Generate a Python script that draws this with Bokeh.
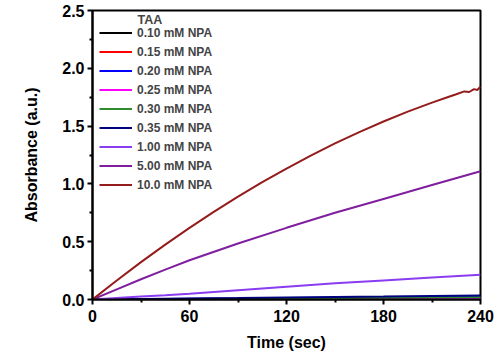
from bokeh.plotting import figure
from bokeh.models import Range1d, FixedTicker, Legend, LegendItem, Label, CustomJSTickFormatter
from bokeh.embed import file_html
from bokeh.resources import INLINE

# ---- data ----
t_red = [0, 15, 30, 45, 60, 75, 90, 105, 120, 135, 150, 165, 180, 195, 210,
         220, 225, 230, 233, 236, 238, 240]
a_10 = [0.0, 0.165, 0.323, 0.475, 0.62, 0.758, 0.89, 1.015, 1.133, 1.245, 1.35, 1.448, 1.54,
        1.625, 1.703, 1.752, 1.775, 1.80, 1.795, 1.82, 1.813, 1.84]
t = [0, 15, 30, 45, 60, 90, 120, 150, 180, 210, 240]
a_5 = [0.0, 0.088, 0.175, 0.258, 0.34, 0.485, 0.62, 0.75, 0.87, 0.99, 1.11]
a_1 = [0.0, 0.013, 0.025, 0.037, 0.05, 0.08, 0.11, 0.14, 0.165, 0.19, 0.215]
a_035 = [0.0, 0.003, 0.005, 0.007, 0.009, 0.013, 0.018, 0.022, 0.026, 0.031, 0.035]
a_030 = [0.0, 0.002, 0.003, 0.004, 0.005, 0.008, 0.010, 0.013, 0.015, 0.018, 0.020]
a_025 = [0.0, 0.001, 0.002, 0.002, 0.003, 0.005, 0.006, 0.008, 0.009, 0.011, 0.012]
a_020 = [0.0, 0.002, 0.003, 0.005, 0.006, 0.009, 0.012, 0.016, 0.019, 0.022, 0.025]
a_015 = [0.0, 0.001, 0.001, 0.002, 0.002, 0.003, 0.004, 0.005, 0.006, 0.007, 0.008]
a_010 = [0.0, 0.0, 0.001, 0.001, 0.001, 0.002, 0.002, 0.003, 0.003, 0.004, 0.004]

labels = ["0.10 mM NPA", "0.15 mM NPA", "0.20 mM NPA", "0.25 mM NPA", "0.30 mM NPA",
          "0.35 mM NPA", "1.00 mM NPA", "5.00 mM NPA", "10.0 mM NPA"]
colors = ["#000000", "#FF0000", "#0000FF", "#FF00FF", "#2E8B2E",
          "#000080", "#8A3CF0", "#7F1F9F", "#941C1C"]
series = [(t, a_010), (t, a_015), (t, a_020), (t, a_025), (t, a_030),
          (t, a_035), (t, a_1), (t, a_5), (t_red, a_10)]

x_ticks = [0, 60, 120, 180, 240]
x_minor = [30, 90, 150, 210]
y_ticks = [0.0, 0.5, 1.0, 1.5, 2.0, 2.5]
y_minor = [0.25, 0.75, 1.25, 1.75, 2.25]

FONT = "Liberation Sans"

p = figure(width=500, height=361, output_backend="svg", toolbar_location=None,
           x_range=Range1d(0, 240), y_range=Range1d(0, 2.5),
           min_border_left=92, min_border_right=20, min_border_top=10, min_border_bottom=62)
p.xgrid.visible = False
p.ygrid.visible = False
p.outline_line_color = "black"
p.outline_line_width = 2
p.background_fill_color = "white"
p.border_fill_color = "white"

renderers = []
for (xs, ys), c in zip(series, colors):
    r = p.line(xs, ys, line_color=c, line_width=2)
    renderers.append(r)

items = [LegendItem(label=l, renderers=[r]) for l, r in zip(labels, renderers)]
legend = Legend(items=items, location=(7, 107), margin=0, padding=0, spacing=4,
                glyph_width=33, glyph_height=15, label_height=15, label_standoff=5,
                label_text_font=FONT, label_text_font_style="bold", label_text_font_size="12px",
                border_line_color=None, background_fill_alpha=0)
p.add_layout(legend, "center")

p.add_layout(Label(x=27.8, y=2.475, text="TAA", text_font=FONT, text_font_style="bold",
                   text_font_size="12.5px", text_baseline="top", text_align="left"))

for ax in (p.xaxis[0], p.yaxis[0]):
    ax.axis_line_width = 2
    ax.major_tick_line_width = 2
    ax.minor_tick_line_width = 2
    ax.major_tick_out = 5
    ax.major_tick_in = 0
    ax.minor_tick_out = 3
    ax.minor_tick_in = 0
    ax.major_label_text_font = FONT
    ax.major_label_text_font_style = "bold"
    ax.major_label_text_font_size = "16px"
    ax.major_label_text_color = "black"
    ax.axis_label_text_font = FONT
    ax.axis_label_text_font_style = "bold"
    ax.axis_label_text_font_size = "16px"
    ax.axis_label_text_color = "black"

p.xaxis.ticker = FixedTicker(ticks=x_ticks, minor_ticks=x_minor)
p.yaxis.ticker = FixedTicker(ticks=y_ticks, minor_ticks=y_minor)
p.yaxis.formatter = CustomJSTickFormatter(code="return tick.toFixed(1);")
p.xaxis.axis_label = "Time (sec)"
p.yaxis.axis_label = "Absorbance (a.u.)"
p.xaxis.major_label_standoff = 5
p.xaxis.axis_label_standoff = 9
p.yaxis.major_label_standoff = 3
p.yaxis.axis_label_standoff = 19

open("out.html", "w").write(file_html(p, INLINE))
